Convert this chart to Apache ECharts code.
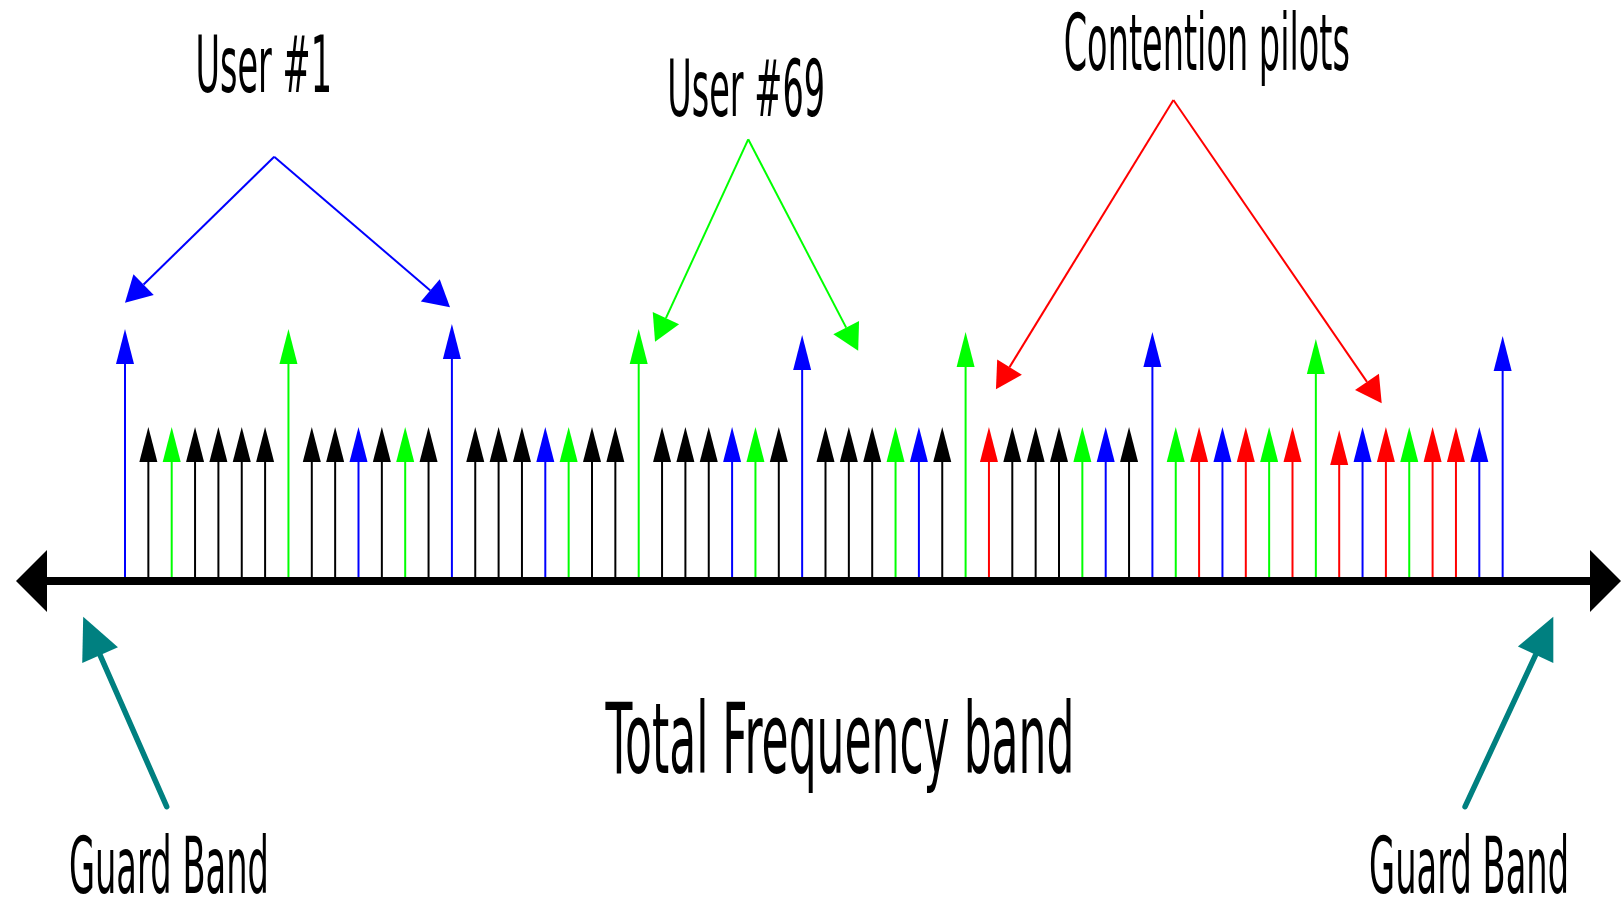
<!DOCTYPE html>
<html>
<head>
<meta charset="utf-8">
<script src="https://cdn.jsdelivr.net/npm/echarts@6/dist/echarts.min.js"></script>
<style>
html,body{margin:0;padding:0;background:#fff;}
#chart{width:1621px;height:898px;}
</style>
</head>
<body>
<div id="chart"></div>
<script>
// ---------------- DATA ----------------
// sub-carrier slot index along the frequency band
const subcarrierIndex = [
  0,1,2,3,4,5,6,7,8,9,10,11,12,13,14,15,16,17,18,19,
  20,21,22,23,24,25,26,27,28,29,30,31,32,33,34,35,36,37,38,39,
  40,41,42,43,44,45,46,47,48,49,50,51,52,53,54,55,56,57,58,59
];
// who owns each sub-carrier: U1 = User #1, U69 = User #69, O = other users, CP = contention pilot
const subcarrierOwner = [
  'U1','O','U69','O','O','O','O','U69','O','O','U1','O','U69','O','U1','O','O','O','U1','U69',
  'O','O','U69','O','O','O','U1','U69','O','U1','O','O','O','U69','U1','O','U69','CP','O','O',
  'O','U69','U1','O','U1','U69','CP','U1','CP','U69','CP','U69','CP','U1','CP','U69','CP','CP','U1','U1'
];
// arrow height (relative amplitude)
const arrowHeight = [
  50.4,30.8,30.8,30.8,30.8,30.8,30.8,50.4,30.8,30.8,30.8,30.8,30.8,30.8,51.4,30.8,30.8,30.8,30.8,30.8,
  30.8,30.8,50.4,30.8,30.8,30.8,30.8,30.8,30.8,49.2,30.8,30.8,30.8,30.8,30.8,30.8,49.8,30.8,30.8,30.8,
  30.8,30.8,30.8,30.8,49.8,30.8,30.8,30.8,30.8,30.8,30.8,48.4,30.2,30.8,30.8,30.8,30.8,30.8,30.8,49.0
];

// annotation texts
const labelText = ['User #1', 'User #69', 'Contention pilots', 'Total Frequency band', 'Guard Band', 'Guard Band'];

// callout groups (which owner they point at)
const calloutOwner = ['U1', 'U69', 'CP'];

// ---------------- ANNOTATION ANCHORS (data space) ----------------
const labelAnchor = [[5.94, 101.8], [26.60, 97.0], [46.33, 106.2], [30.62, -33.4], [1.88, -58.4], [57.56, -58.4]];
const calloutApex = [[6.39, 84.86], [26.69, 88.34], [44.90, 96.2]];
const calloutTips = [
  [[0.0, 55.66], [13.92, 54.74]],
  [[22.70, 47.86], [31.40, 46.06]],
  [[37.30, 38.34], [53.82, 35.54]]
];
const guardTail = [[1.786, -45.14], [57.39, -45.14]];
const guardTip = [[-1.79, -7.14], [61.17, -7.14]];

// ---------------- STYLE ----------------
const COLORS = { U1: '#0000ff', U69: '#00ff00', O: '#000000', CP: '#ff0000' };
const GUARD_COLOR = '#008080';
const LABEL_SIZE = [78, 78, 78, 98, 78, 78];
const LABEL_SCALE_X = [0.43, 0.43, 0.43, 0.449, 0.432, 0.432];
const FONT_FAMILY = '"DejaVu Sans", Verdana, sans-serif';

const GRID_LEFT = 30, GRID_RIGHT = 14;
const X_MIN = (GRID_LEFT - 125) / 23.35;
const X_MAX = (1621 - GRID_RIGHT - 125) / 23.35;

function headPoints(tip, dirx, diry, len, wid) {
  const d = Math.hypot(dirx, diry);
  const ux = dirx / d, uy = diry / d;
  const bx = tip[0] - ux * len, by = tip[1] - uy * len;
  const nx = -uy, ny = ux;
  return {
    base: [bx, by],
    pts: [[tip[0], tip[1]], [bx + nx * wid / 2, by + ny * wid / 2], [bx - nx * wid / 2, by - ny * wid / 2]]
  };
}

function renderStem(params, api) {
  const i = api.value(0), h = api.value(1);
  const c = COLORS[subcarrierOwner[params.dataIndex]];
  const base = api.coord([i, 0]);
  const tip = api.coord([i, h]);
  const HEAD_H = 35, HEAD_W = 18;
  return {
    type: 'group',
    children: [
      { type: 'line', shape: { x1: base[0], y1: base[1], x2: tip[0], y2: tip[1] + HEAD_H - 1 },
        style: { stroke: c, lineWidth: 2 } },
      { type: 'polygon', shape: { points: [[tip[0], tip[1]], [tip[0] - HEAD_W / 2, tip[1] + HEAD_H], [tip[0] + HEAD_W / 2, tip[1] + HEAD_H]] },
        style: { fill: c } }
    ]
  };
}

function renderCallout(params, api) {
  const k = params.dataIndex;
  const c = COLORS[calloutOwner[k]];
  const apex = api.coord(calloutApex[k]);
  const children = [];
  calloutTips[k].forEach(function (t) {
    const tip = api.coord(t);
    const hp = headPoints(tip, tip[0] - apex[0], tip[1] - apex[1], 26, 29);
    children.push({ type: 'line', shape: { x1: apex[0], y1: apex[1], x2: hp.base[0], y2: hp.base[1] },
      style: { stroke: c, lineWidth: 2 } });
    children.push({ type: 'polygon', shape: { points: hp.pts }, style: { fill: c } });
  });
  return { type: 'group', children: children };
}

function renderGuard(params, api) {
  const k = params.dataIndex;
  const tail = api.coord(guardTail[k]);
  const tip = api.coord(guardTip[k]);
  const hp = headPoints(tip, tip[0] - tail[0], tip[1] - tail[1], 42, 39);
  return {
    type: 'group',
    children: [
      { type: 'line', shape: { x1: tail[0], y1: tail[1], x2: hp.base[0], y2: hp.base[1] },
        style: { stroke: GUARD_COLOR, lineWidth: 5.5, lineCap: 'round' } },
      { type: 'polygon', shape: { points: hp.pts }, style: { fill: GUARD_COLOR } }
    ]
  };
}

function renderLabel(params, api) {
  const k = params.dataIndex;
  const p = api.coord(labelAnchor[k]);
  return {
    type: 'text',
    x: p[0], y: p[1],
    scaleX: LABEL_SCALE_X[k],
    style: {
      text: labelText[k],
      x: 0, y: 0,
      fill: '#000',
      font: LABEL_SIZE[k] + 'px ' + FONT_FAMILY,
      align: 'center',
      verticalAlign: 'middle'
    }
  };
}

const chart = echarts.init(document.getElementById('chart'), null, { renderer: 'canvas' });
chart.setOption({
  animation: false,
  backgroundColor: '#ffffff',
  grid: { left: GRID_LEFT, right: GRID_RIGHT, top: 81, bottom: 317, outerBoundsMode: 'none' },
  xAxis: {
    type: 'value', min: X_MIN, max: X_MAX, z: 10,
    axisLine: {
      show: true, onZero: false,
      symbol: ['triangle', 'triangle'],
      symbolSize: [62, 31],
      symbolOffset: [1.5, -1.5],
      lineStyle: { color: '#000', width: 8 }
    },
    axisTick: { show: false }, axisLabel: { show: false }, splitLine: { show: false }
  },
  yAxis: { type: 'value', min: 0, max: 100, show: false },
  series: [
    { type: 'custom', name: 'Sub-carriers', renderItem: renderStem, clip: false,
      data: subcarrierIndex.map(function (x, k) { return [x, arrowHeight[k]]; }) },
    { type: 'custom', name: 'Callouts', renderItem: renderCallout, clip: false,
      data: calloutApex.map(function (p) { return p; }) },
    { type: 'custom', name: 'Guard', renderItem: renderGuard, clip: false,
      data: guardTail.map(function (p) { return p; }) },
    { type: 'custom', name: 'Labels', renderItem: renderLabel, clip: false,
      data: labelAnchor.map(function (p) { return p; }) }
  ]
});
</script>
</body>
</html>
